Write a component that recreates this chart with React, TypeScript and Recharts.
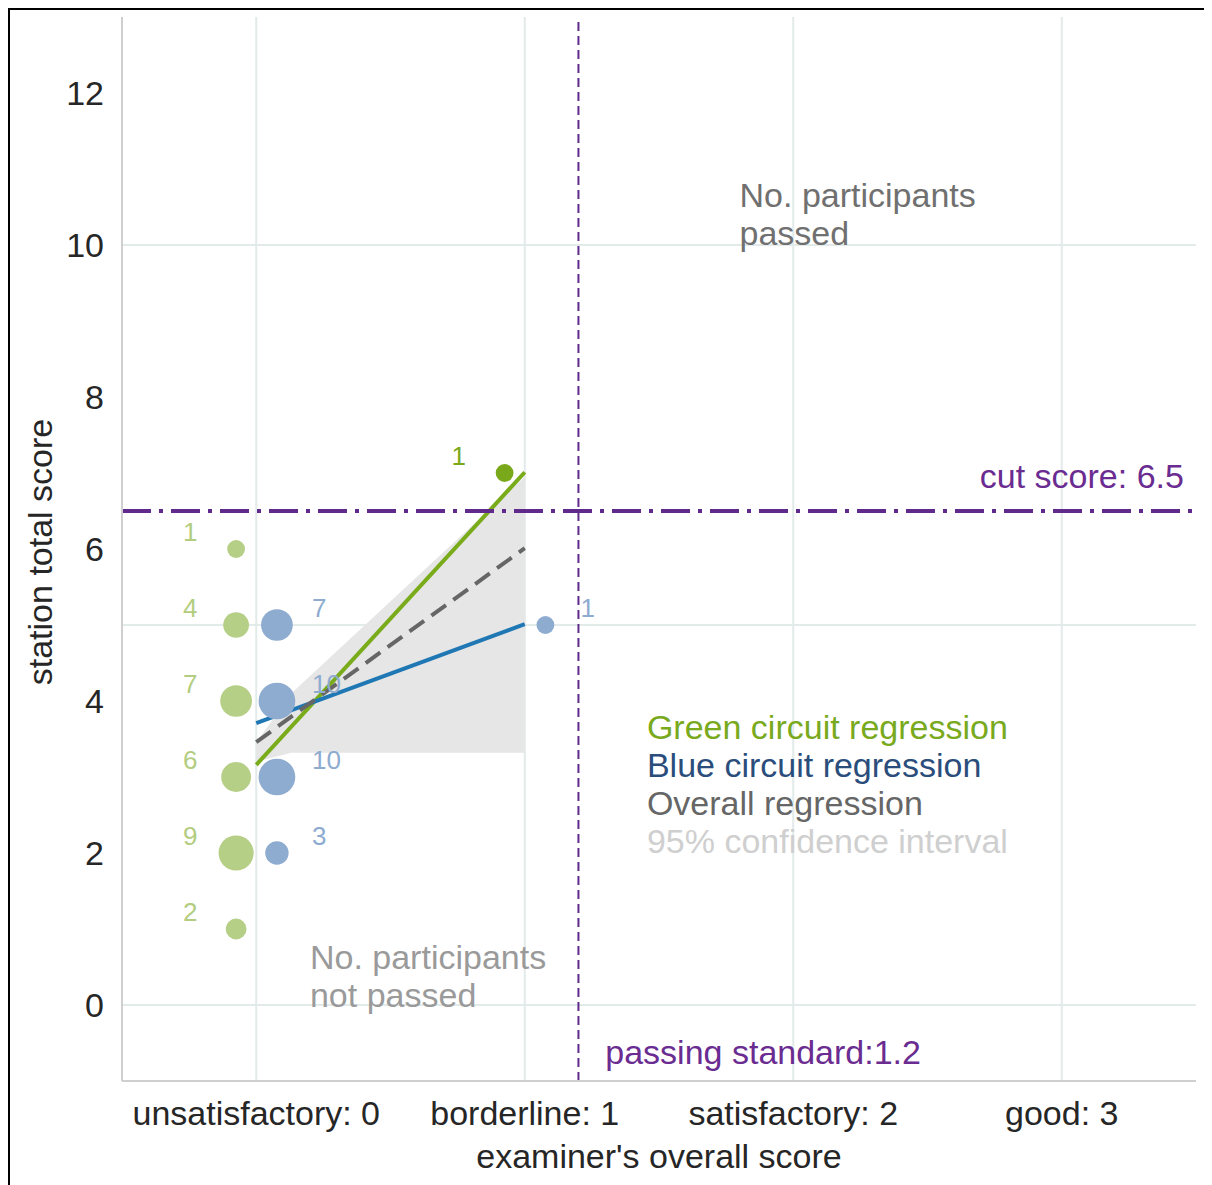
import {
  Area,
  CartesianGrid,
  ComposedChart,
  Line,
  ReferenceDot,
  ReferenceLine,
  Scatter,
  XAxis,
  YAxis,
  ZAxis,
} from "recharts";

// axis ticks
const examinerLabels = ["unsatisfactory: 0", "borderline: 1", "satisfactory: 2", "good: 3"];
const examinerTicks = [0, 1, 2, 3];
const scoreTicks = [0, 2, 4, 6, 8, 10, 12];

// green circuit: examiner score, station score, number of participants
const greenExaminer = [0, 0, 0, 0, 0, 0];
const greenScores = [6, 5, 4, 3, 2, 1];
const greenCounts = [1, 4, 7, 6, 9, 2];
const greenHighExaminer = [1];
const greenHighScores = [7];
const greenHighCounts = [1];

// blue circuit
const blueExaminer = [0, 0, 0, 0, 1];
const blueScores = [5, 4, 3, 2, 5];
const blueCounts = [7, 10, 10, 3, 1];

// regression fits + confidence band
const fitX = [0, 0.13, 1];
const greenFit = [3.16, null, 7.01];
const blueFit = [3.71, null, 5.01];
const overallFit = [3.46, null, 6.01];
const ciLow = [3.2, 3.32, 3.32];
const ciHigh = [3.45, 4.1, 6.95];

const CUT_SCORE = 6.5;
const PASSING_STANDARD = 1.2;

const GREEN_SHIFT = -0.075;
const BLUE_SHIFT = 0.077;

const FONT = "'Liberation Sans', Arial, sans-serif";
const TEXT_SIZE = 34;

const toPoints = (ex: number[], sc: number[], n: number[], shift: number) =>
  ex.map((e, i) => ({ x: e + shift, y: sc[i], n: n[i] }));

const greenPoints = toPoints(greenExaminer, greenScores, greenCounts, GREEN_SHIFT);
const greenHighPoints = toPoints(greenHighExaminer, greenHighScores, greenHighCounts, GREEN_SHIFT);
const bluePoints = toPoints(blueExaminer, blueScores, blueCounts, BLUE_SHIFT);

const fitRows = fitX.map((x, i) => ({
  x,
  green: greenFit[i],
  blue: blueFit[i],
  overall: overallFit[i],
  ci: [ciLow[i], ciHigh[i]],
}));

const notes = [
  { x: 1.8, y: 10.66, lines: ["No. participants", "passed"], color: "#707070", anchor: "start" },
  { x: 0.2, y: 0.63, lines: ["No. participants", "not passed"], color: "#9a9a9a", anchor: "start" },
  { x: 1.3, y: -0.62, lines: ["passing standard:1.2"], color: "#6a2c91", anchor: "start" },
  { x: 3.455, y: 6.96, lines: ["cut score: 6.5"], color: "#6a2c91", anchor: "end" },
  { x: 1.455, y: 3.66, lines: ["Green circuit regression"], color: "#79a91d", anchor: "start" },
  { x: 1.455, y: 3.16, lines: ["Blue circuit regression"], color: "#2a4d7c", anchor: "start" },
  { x: 1.455, y: 2.66, lines: ["Overall regression"], color: "#666666", anchor: "start" },
  { x: 1.455, y: 2.16, lines: ["95% confidence interval"], color: "#cfcfcf", anchor: "start" },
];

const bubble =
  (fill: string, labelFill: string, dx: number, anchor: "start" | "middle") =>
  (props: any) => {
    const { cx, cy, payload } = props;
    const r = props.width ? props.width / 2 : Math.sqrt((props.size || 64) / Math.PI);
    return (
      <g>
        <circle cx={cx} cy={cy} r={r} fill={fill} />
        <text
          x={cx + dx}
          y={cy - 17}
          textAnchor={anchor}
          dominantBaseline="central"
          fontSize={26}
          fontFamily={FONT}
          fill={labelFill}
        >
          {payload.n}
        </text>
      </g>
    );
  };

export default function App() {
  return (
    <div
      style={{
        width: 1198,
        height: 1180,
        border: "2px solid #000",
        fontFamily: FONT,
        background: "#fff",
      }}
    >
      <ComposedChart
        width={1198}
        height={1180}
        data={fitRows}
        margin={{ top: 7, right: 12, bottom: 19, left: 0 }}
        style={{ fontFamily: FONT }}
      >
        <CartesianGrid
          stroke="#e2eaea"
          strokeWidth={2}
          verticalValues={examinerTicks}
          horizontalValues={[0, 5, 10]}
        />
        <XAxis
          type="number"
          dataKey="x"
          domain={[-0.5, 3.5]}
          allowDataOverflow
          ticks={examinerTicks}
          interval={0}
          tickFormatter={(v: number) => examinerLabels[v] ?? ""}
          tickLine={false}
          axisLine={{ stroke: "#cfcfcf", strokeWidth: 2 }}
          tickMargin={14}
          height={90}
          tick={{ fontSize: TEXT_SIZE, fill: "#262626" }}
          label={(p: any) => {
            const vb = p.viewBox || { x: 112, y: 1075, width: 1074, height: 90 };
            return (
              <text
                x={vb.x + vb.width / 2}
                y={vb.y + 75}
                textAnchor="middle"
                dominantBaseline="central"
                fontSize={TEXT_SIZE}
                fill="#262626"
              >
                examiner's overall score
              </text>
            );
          }}
        />
        <YAxis
          type="number"
          domain={[-1, 13]}
          allowDataOverflow
          ticks={scoreTicks}
          interval={0}
          width={112}
          tickLine={false}
          axisLine={{ stroke: "#cfcfcf", strokeWidth: 2 }}
          tickMargin={12}
          tick={{ fontSize: TEXT_SIZE, fill: "#262626" }}
          label={(p: any) => {
            const vb = p.viewBox || { x: 0, y: 7, width: 112, height: 1064 };
            const cx = vb.x + 30;
            const cy = vb.y + vb.height / 2 + 3;
            return (
              <text
                x={cx}
                y={cy}
                transform={`rotate(-90 ${cx} ${cy})`}
                textAnchor="middle"
                dominantBaseline="central"
                fontSize={TEXT_SIZE}
                fill="#262626"
              >
                station total score
              </text>
            );
          }}
        />
        <ZAxis type="number" dataKey="n" domain={[1, 10]} range={[250, 1060]} />

        <Area
          dataKey="ci"
          type="linear"
          fill="#e6e6e6"
          fillOpacity={1}
          stroke="none"
          isAnimationActive={false}
          connectNulls
        />
        <Line
          dataKey="green"
          stroke="#79ab1b"
          strokeWidth={4}
          dot={false}
          connectNulls
          isAnimationActive={false}
        />
        <Line
          dataKey="blue"
          stroke="#1f77b4"
          strokeWidth={4}
          dot={false}
          connectNulls
          isAnimationActive={false}
        />
        <Line
          dataKey="overall"
          stroke="#666666"
          strokeWidth={4}
          strokeDasharray="18 9"
          dot={false}
          connectNulls
          isAnimationActive={false}
        />

        <ReferenceLine
          y={CUT_SCORE}
          stroke="#5f2a8c"
          strokeWidth={4}
          strokeDasharray="29 8 4 8"
        />
        <ReferenceLine
          x={PASSING_STANDARD}
          stroke="#5f2a8c"
          strokeWidth={2}
          strokeDasharray="9 5"
        />

        <Scatter
          data={greenPoints}
          dataKey="y"
          isAnimationActive={false}
          shape={bubble("#b6cf86", "#b3cd80", -46, "middle")}
        />
        <Scatter
          data={greenHighPoints}
          dataKey="y"
          isAnimationActive={false}
          shape={bubble("#7aa81b", "#7aa81b", -46, "middle")}
        />
        <Scatter
          data={bluePoints}
          dataKey="y"
          isAnimationActive={false}
          shape={bubble("#8eabd0", "#8eabd0", 35, "start")}
        />

        {notes.map((note, i) => (
          <ReferenceDot
            key={i}
            x={note.x}
            y={note.y}
            r={0}
            fill="none"
            stroke="none"
            ifOverflow="visible"
            label={(p: any) => {
              const vb = p.viewBox || { x: 0, y: 0 };
              return (
                <text
                  x={vb.x}
                  y={vb.y}
                  textAnchor={note.anchor}
                  dominantBaseline="central"
                  fontSize={TEXT_SIZE}
                  fill={note.color}
                >
                  {note.lines.map((line, j) => (
                    <tspan key={j} x={vb.x} dy={j === 0 ? 0 : 38}>
                      {line}
                    </tspan>
                  ))}
                </text>
              );
            }}
          />
        ))}
      </ComposedChart>
    </div>
  );
}
